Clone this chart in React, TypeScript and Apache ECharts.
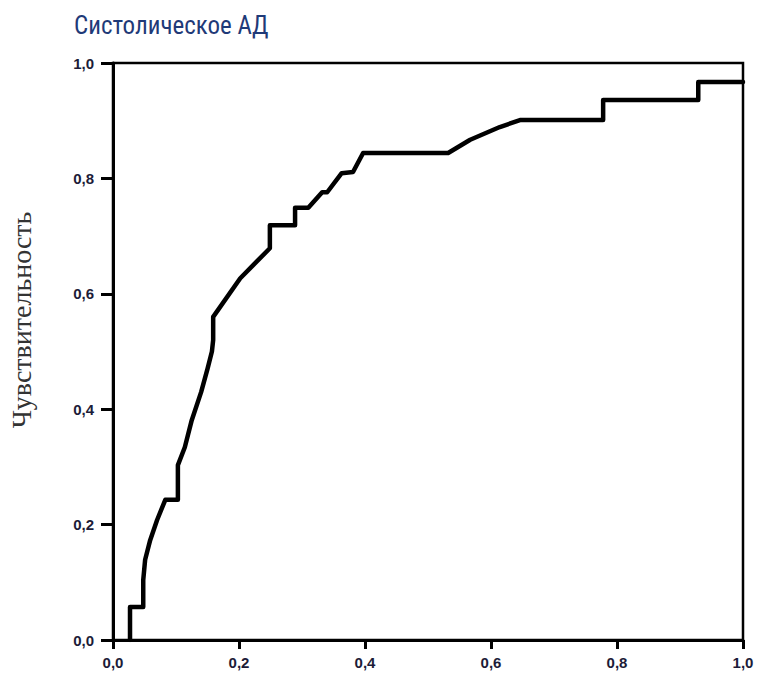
import React, { useEffect, useRef } from "react";
import * as echarts from "echarts";

const titleText = "Систолическое АД";
const yAxisName = "Чувствительность";
const fprValues = [0.027, 0.027, 0.048, 0.048, 0.051, 0.059, 0.070, 0.083, 0.103, 0.103, 0.114, 0.125, 0.140, 0.150, 0.157, 0.159, 0.159, 0.202, 0.249, 0.249, 0.289, 0.289, 0.310, 0.332, 0.340, 0.363, 0.381, 0.397, 0.532, 0.567, 0.614, 0.646, 0.778, 0.778, 0.929, 0.929, 1.0];
const tprValues = [0, 0.057, 0.057, 0.104, 0.139, 0.173, 0.208, 0.243, 0.243, 0.303, 0.334, 0.381, 0.43, 0.47, 0.50, 0.52, 0.56, 0.627, 0.679, 0.719, 0.719, 0.749, 0.749, 0.776, 0.776, 0.809, 0.811, 0.844, 0.844, 0.867, 0.889, 0.901, 0.901, 0.936, 0.936, 0.967, 0.967];

const fmt = (v: number) => v.toFixed(1).replace(".", ",");

export default function App() {
  const ref = useRef<HTMLDivElement>(null);
  useEffect(() => {
    document.body.style.margin = "0";
    if (!ref.current) return;
    const chart = echarts.init(ref.current, null, { renderer: "svg" });
    const labelStyle = {
      color: "#1c1c38",
      fontWeight: "bold" as const,
      fontSize: 15,
      fontFamily: "Liberation Sans, Arial, sans-serif",
      formatter: fmt,
    };
    chart.setOption({
      animation: false,
      backgroundColor: "#ffffff",
      title: {
        text: titleText,
        left: 69,
        top: 8,
        textStyle: {
          color: "#1f3a78",
          fontSize: 25,
          fontWeight: "normal",
          fontFamily: "Liberation Sans Narrow, Roboto Condensed, Liberation Sans, sans-serif",
        },
      },
      graphic: [
        {
          type: "text",
          x: 21,
          y: 320,
          rotation: Math.PI / 2,
          style: {
            text: yAxisName,
            fill: "#333333",
            fontSize: 28,
            fontFamily: "Liberation Serif, Times New Roman, serif",
            align: "center",
            verticalAlign: "middle",
          },
        },
      ],
      grid: {
        left: 113,
        right: 15,
        top: 63,
        bottom: 35,
        show: true,
        borderColor: "#000",
        borderWidth: 2.5,
      },
      xAxis: {
        type: "value",
        min: 0,
        max: 1,
        interval: 0.2,
        splitLine: { show: false },
        axisLine: { show: true, lineStyle: { color: "#000", width: 3 } },
        axisTick: { show: true, inside: false, length: 9, lineStyle: { color: "#000", width: 3 } },
        axisLabel: { ...labelStyle, margin: 15 },
      },
      yAxis: {
        type: "value",
        min: 0,
        max: 1,
        interval: 0.2,
        splitLine: { show: false },
        axisLine: { show: true, lineStyle: { color: "#000", width: 3 } },
        axisTick: { show: true, inside: false, length: 12, lineStyle: { color: "#000", width: 3 } },
        axisLabel: { ...labelStyle, margin: 19 },
      },
      series: [
        {
          type: "line",
          data: fprValues.map((x, i) => [x, tprValues[i]]),
          showSymbol: false,
          symbol: "none",
          lineStyle: { color: "#000", width: 4.5, join: "round", cap: "round" },
          z: 5,
        },
      ],
    });
    return () => chart.dispose();
  }, []);
  return <div ref={ref} style={{ width: 758, height: 675 }} />;
}
